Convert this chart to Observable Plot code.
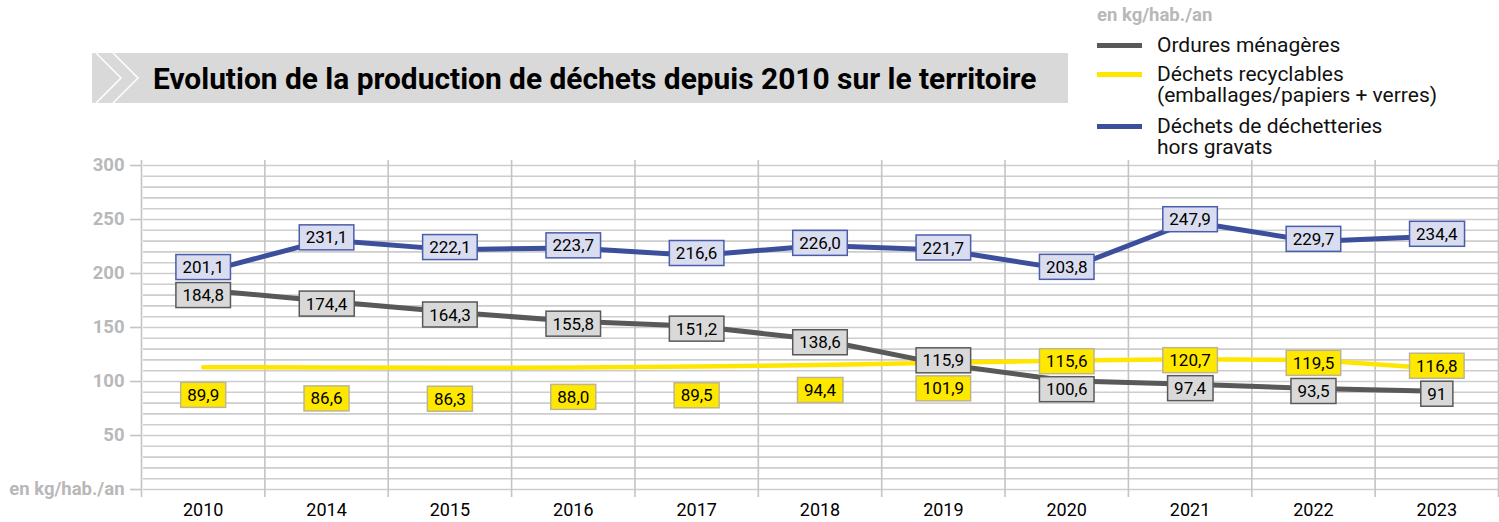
<!DOCTYPE html>
<html><head><meta charset="utf-8">
<script src="https://cdn.jsdelivr.net/npm/d3@7"></script>
<script src="https://cdn.jsdelivr.net/npm/@observablehq/plot@0.6"></script>
<style>
body{margin:0;background:#fff;font-family:Roboto,"Noto Sans",sans-serif;}
#wrap{position:relative;width:1499px;height:522px;overflow:hidden}
#wrap > svg{position:absolute;left:0;top:0}
.banner{position:absolute;left:92px;top:53px;width:976px;height:50px;background:#d9d9d9;}
.banner svg{position:absolute;left:0;top:0}
.banner .t{position:absolute;left:61px;top:0;height:50px;line-height:51px;font-weight:700;font-size:29.9px;color:#000;white-space:nowrap}
.unit{position:absolute;left:1097px;top:4px;font-weight:700;font-size:18.5px;color:#b8b8b8}
.leg{position:absolute;left:1097px;font-size:21px;line-height:21px;color:#111}
.leg .sw{position:absolute;left:0;width:45px;height:5px}
.leg .lb{position:absolute;left:60px;white-space:nowrap}
</style></head><body>
<div id="wrap"></div>
<script>
const years = ["2010","2014","2015","2016","2017","2018","2019","2020","2021","2022","2023"];
const ordures = [184.8,174.4,164.3,155.8,151.2,138.6,115.9,100.6,97.4,93.5,91];
const orduresLabels = ["184,8","174,4","164,3","155,8","151,2","138,6","115,9","100,6","97,4","93,5","91"];
const recyclables = [89.9,86.6,86.3,88.0,89.5,94.4,101.9,115.6,120.7,119.5,116.8];
const recyclablesLabels = ["89,9","86,6","86,3","88,0","89,5","94,4","101,9","115,6","120,7","119,5","116,8"];
const recyclablesLine = [113.2,113.0,112.7,113.0,114.0,115.2,117.3,119.4,120.5,120.0,112.0];
const decheteries = [201.1,231.1,222.1,223.7,216.6,226.0,221.7,203.8,247.9,229.7,234.4];
const decheteriesLabels = ["201,1","231,1","222,1","223,7","216,6","226,0","221,7","203,8","247,9","229,7","234,4"];
const yTicks = [0,50,100,150,200,250,300];
const minorTicks = d3.range(0, 301, 10);

const idx = years.map((d,i)=>i);
const bounds = years.map((d,i)=>i-0.5).concat([years.length-0.5]);

const C = {ord:"#595959", rec:"#ffe600", dec:"#3c4f9c", grid:"#cdcdcd"};

const plot = Plot.plot({
  width:1499, height:522,
  marginLeft:141, marginRight:1, marginTop:165, marginBottom:33,
  style:{fontFamily:"Roboto, 'Noto Sans', sans-serif", background:"transparent", color:"#000"},
  x:{domain:[-0.5, years.length-0.5], label:null},
  y:{domain:[0,300], label:null},
  marks:[
    Plot.ruleY(minorTicks, {stroke:C.grid, strokeWidth:1.6, insetLeft:2}),
    Plot.ruleX(bounds, {stroke:"#c4c4c4", strokeWidth:1.6, insetTop:-5, insetBottom:-8}),
    Plot.axisY({ticks:yTicks, tickSize:11, tickPadding:6, stroke:"#c4c4c4", strokeWidth:1.6,
      tickFormat:d=> d===0 ? "en kg/hab./an" : String(d), fill:"#b8b8b8", fontWeight:"bold", fontSize:18.5}),
    Plot.axisX({ticks:idx, tickSize:0, tickPadding:14, tickFormat:i=>years[i], fontSize:18, fill:"#000"}),
    Plot.line(idx, {x:i=>i, y:i=>recyclablesLine[i], stroke:C.rec, strokeWidth:4.5}),
    Plot.line(idx, {x:i=>i, y:i=>ordures[i], stroke:C.ord, strokeWidth:5}),
    Plot.line(idx, {x:i=>i, y:i=>decheteries[i], stroke:C.dec, strokeWidth:5}),
    Plot.text(idx, {x:i=>i, y:i=>recyclables[i], text:i=>recyclablesLabels[i], fontSize:17, fill:"#000", dy:3}),
    Plot.text(idx, {x:i=>i, y:i=>ordures[i], text:i=>orduresLabels[i], fontSize:17, fill:"#000", dy:3}),
    Plot.text(idx, {x:i=>i, y:i=>decheteries[i], text:i=>decheteriesLabels[i], fontSize:17, fill:"#000", dy:-2})
  ]
});

const wrap = document.getElementById("wrap");
wrap.appendChild(plot);

const boxStyles = [
  {fill:"#ffe800", stroke:"#bdb68e"},
  {fill:"#d9d9d9", stroke:"#595959"},
  {fill:"#d9ddef", stroke:"#4a5dab"}
];
// build label boxes behind each text, grouped by column
const columns = idx.map(()=>[]);
const textGroups = plot.querySelectorAll('g[aria-label="text"]');
textGroups.forEach((g, k) => {
  const st = boxStyles[k] || boxStyles[0];
  g.querySelectorAll("text").forEach((t, i) => {
    const b = t.getBBox();
    const r = document.createElementNS("http://www.w3.org/2000/svg","rect");
    r.setAttribute("x", b.x-6.5); r.setAttribute("y", b.y-2.5);
    r.setAttribute("width", b.width+13); r.setAttribute("height", b.height+5);
    r.setAttribute("fill", st.fill); r.setAttribute("stroke", st.stroke); r.setAttribute("stroke-width", 1.5);
    const tr = t.getAttribute("transform"); if (tr) r.setAttribute("transform", tr);
    g.insertBefore(r, t);
    const rb = r.getBoundingClientRect();
    columns[i].push({t, r, top: rb.top, bottom: rb.bottom, shift: 0});
  });
});
// simple vertical collision resolution per column
const gap = 3;
columns.forEach(col => {
  for (let iter = 0; iter < 20; iter++) {
    let moved = false;
    col.sort((a,b)=>(a.top+a.shift)-(b.top+b.shift));
    for (let j = 0; j < col.length-1; j++) {
      const a = col[j], b = col[j+1];
      const over = (a.bottom + a.shift + gap) - (b.top + b.shift);
      if (over > 0.01) { a.shift -= over/2; b.shift += over/2; moved = true; }
    }
    if (!moved) break;
  }
  col.forEach(o => {
    if (o.shift) {
      [o.t, o.r].forEach(el => {
        const tr = el.getAttribute("transform") || "";
        el.setAttribute("transform", `translate(0,${o.shift}) ${tr}`.trim());
      });
    }
  });
});

// title banner
const banner = document.createElement("div");
banner.className = "banner";
banner.innerHTML = `<svg width="60" height="50"><polyline points="4,0 29,25 4,50" fill="none" stroke="#fff" stroke-width="1.5"/><polyline points="21,0 46,25 21,50" fill="none" stroke="#fff" stroke-width="1.5"/></svg><div class="t">Evolution de la production de déchets depuis 2010 sur le territoire</div>`;
wrap.appendChild(banner);

const unit = document.createElement("div");
unit.className = "unit"; unit.textContent = "en kg/hab./an";
wrap.appendChild(unit);

const legendItems = [
  {color:C.ord, lines:["Ordures ménagères"], top:35},
  {color:C.rec, lines:["Déchets recyclables","(emballages/papiers + verres)"], top:64},
  {color:C.dec, lines:["Déchets de déchetteries","hors gravats"], top:116}
];
legendItems.forEach(it=>{
  const d = document.createElement("div");
  d.className = "leg"; d.style.top = it.top+"px";
  d.innerHTML = `<div class="sw" style="top:8px;background:${it.color}"></div><div class="lb">${it.lines.join("<br>")}</div>`;
  wrap.appendChild(d);
});
</script>
</body></html>
